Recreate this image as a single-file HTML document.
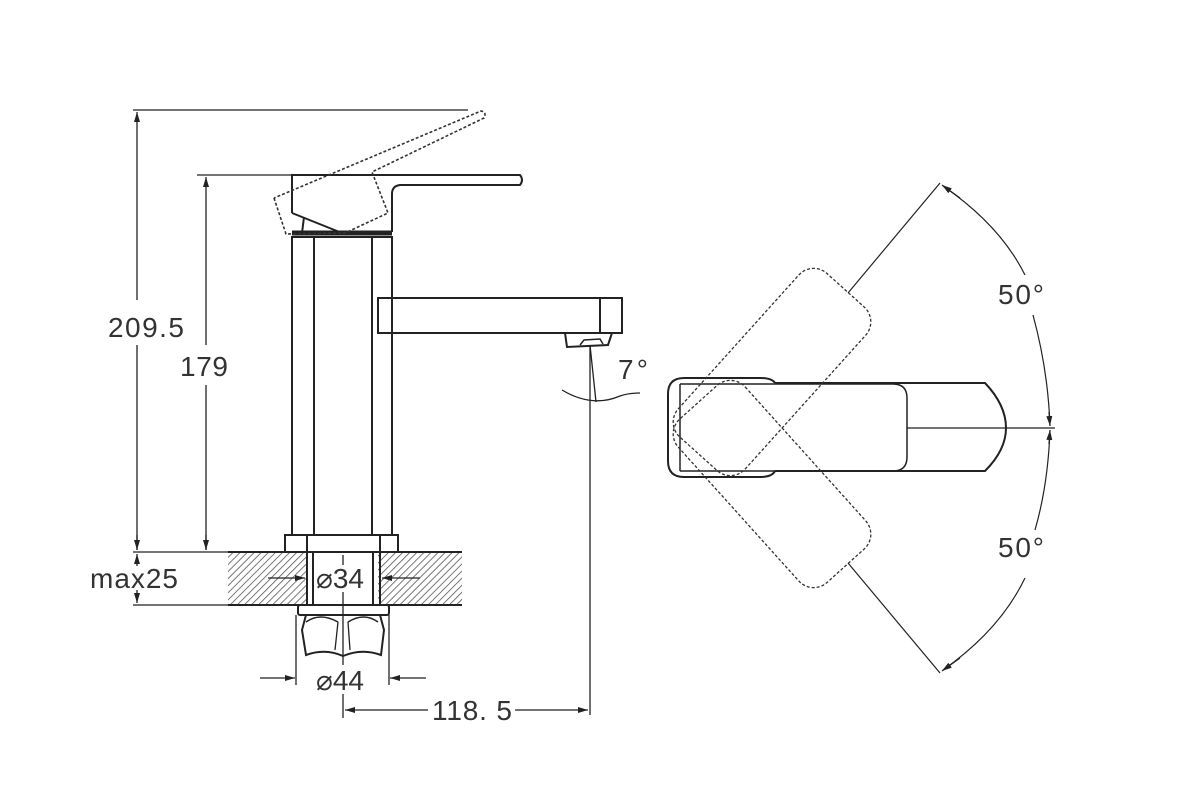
<!DOCTYPE html>
<html><head><meta charset="utf-8"><style>
html,body{margin:0;padding:0;background:#fff;}
svg{display:block}
text{font-family:"Liberation Sans",Arial,sans-serif;fill:#333;font-size:28px}
</style></head><body>
<svg width="1200" height="806" viewBox="0 0 1200 806" xmlns="http://www.w3.org/2000/svg">
<defs>
<pattern id="h" width="5" height="5" patternUnits="userSpaceOnUse" patternTransform="rotate(45)">
<rect width="5" height="5" fill="#fff"/><line x1="0" y1="0" x2="0" y2="5" stroke="#555" stroke-width="1.6"/>
</pattern>
<marker id="a" viewBox="0 0 10 6" refX="10" refY="3" markerWidth="10" markerHeight="6" orient="auto-start-reverse" markerUnits="userSpaceOnUse"><path d="M0,0 L10,3 L0,6z" fill="#222"/></marker>
</defs>
<g stroke="#222" fill="none" stroke-width="1.3">
<line x1="133" y1="110" x2="468" y2="110"/>
<line x1="137" y1="300" x2="137" y2="112" marker-end="url(#a)"/>
<line x1="137" y1="345" x2="137" y2="550"/>
<line x1="197" y1="175" x2="292" y2="175"/>
<line x1="206" y1="345" x2="206" y2="177" marker-end="url(#a)"/>
<line x1="206" y1="385" x2="206" y2="550"/>
<line x1="137" y1="535" x2="137" y2="550" marker-end="url(#a)"/>
<line x1="206" y1="535" x2="206" y2="550" marker-end="url(#a)"/>
<line x1="133" y1="552" x2="228" y2="552"/>
<line x1="133" y1="605" x2="228" y2="605"/>
<line x1="137" y1="566" x2="137" y2="554" marker-end="url(#a)"/>
<line x1="137" y1="590" x2="137" y2="603" marker-end="url(#a)"/>
</g>
<text x="108" y="337" textLength="76">209.5</text>
<text x="180" y="376" textLength="48">179</text>
<text x="90" y="588" textLength="88">max25</text>

<rect x="228" y="552" width="80" height="53" fill="url(#h)"/>
<rect x="378" y="552" width="84" height="53" fill="url(#h)"/>
<g stroke="#222" fill="none" stroke-width="2">
<line x1="228" y1="552" x2="462" y2="552"/>
<line x1="228" y1="605" x2="462" y2="605"/>
<rect x="292" y="237" width="100" height="298"/>
<line x1="314" y1="237" x2="314" y2="535"/>
<line x1="372" y1="237" x2="372" y2="535"/>
<rect x="285" y="535" width="113" height="17"/>
<line x1="307" y1="535" x2="307" y2="552"/>
<line x1="380" y1="535" x2="380" y2="552"/>
<line x1="307" y1="552" x2="307" y2="605"/>
<line x1="313" y1="552" x2="313" y2="605"/>
<line x1="373" y1="552" x2="373" y2="605"/>
<line x1="380" y1="552" x2="380" y2="605"/>
<rect x="298" y="605" width="91" height="10" rx="2"/>
<path d="M306,615 L302,630 L306,655 Q325,648 343,656 Q362,648 381,655 L384,630 L380,615"/>
<path d="M306,622 Q320,612 338,622 M348,622 Q364,612 378,622" stroke-width="1.5"/>
<path d="M338,622 L335,650 M348,622 L350,650" stroke-width="1.3"/>
<path d="M292,213 L292,175 L520,175 Q524,180 520,185 L400,185 Q392,186 392,194 L392,232"/>
<path d="M292,213 L342,233"/>
<path d="M304,217 L302,233"/>
<line x1="292" y1="233" x2="392" y2="233" stroke-width="5"/>
<rect x="378" y="298" width="244" height="35"/>
<line x1="600" y1="298" x2="600" y2="333"/>
<path d="M565,333 L567,347 L608,345 L612,333"/>
<path d="M580,345 L584,340 L600,339 L603,344" stroke-width="1.5"/>
</g>
<path d="M274,198 L286,234 L345,233 L388,213 L372,172 L484,118 Q487,112 481,111 L274,198" stroke="#333" stroke-width="1.6" fill="none" stroke-dasharray="3,2"/>
<g stroke="#222" fill="none" stroke-width="1.3">
<line x1="590" y1="345" x2="590" y2="715"/>
<line x1="590" y1="345" x2="596" y2="402"/>
<path d="M562,390 Q592,408 620,396 Q628,393 640,393"/>
<line x1="268" y1="578" x2="305" y2="578" marker-end="url(#a)"/>
<line x1="420" y1="578" x2="382" y2="578" marker-end="url(#a)"/>
<line x1="343" y1="555" x2="343" y2="565"/>
<line x1="343" y1="592" x2="343" y2="665"/>
<line x1="343" y1="694" x2="343" y2="718"/>
<line x1="296" y1="615" x2="296" y2="685"/>
<line x1="389" y1="615" x2="389" y2="685"/>
<line x1="260" y1="678" x2="295" y2="678" marker-end="url(#a)"/>
<line x1="426" y1="678" x2="390" y2="678" marker-end="url(#a)"/>
<line x1="428" y1="710" x2="345" y2="710" marker-end="url(#a)"/>
<line x1="515" y1="710" x2="588" y2="710" marker-end="url(#a)"/>
</g>
<text x="618" y="379" textLength="30">7°</text>
<text x="316" y="588">⌀34</text>
<text x="316" y="690">⌀44</text>
<text x="432" y="720" textLength="80">118. 5</text>

<g stroke="#222" fill="none" stroke-width="2">
<path d="M775,383 Q772,378 760,378 L684,378 Q668,378 668,394 L668,461 Q668,477 684,477 L760,477 Q772,477 775,471"/>
<path d="M775,383 L985,383 Q1006,405 1006,428 Q1006,450 985,471 L775,471"/>
<path d="M680,384 L893,384 Q907,384 907,398 L907,457 Q907,471 893,471 L680,471" stroke-width="1.5"/>
<path d="M680,384 L680,471" stroke-width="1.5"/>
</g>
<g stroke="#333" fill="none" stroke-width="1.3" stroke-dasharray="3,2">
<rect x="662" y="327" width="220" height="90" rx="20" transform="rotate(-48 772 372)"/>
<rect x="662" y="439" width="220" height="90" rx="20" transform="rotate(48 772 484)"/>
</g>
<g stroke="#222" fill="none" stroke-width="1.2">
<line x1="907" y1="428" x2="1055" y2="428"/>
<line x1="848" y1="293" x2="940" y2="183"/>
<line x1="848" y1="563" x2="940" y2="673"/>
<path d="M943,186 Q1000,225 1025,275"/>
<path d="M1033,315 Q1048,370 1050,426"/>
<path d="M1050,430 Q1048,485 1035,530"/>
<path d="M1025,578 Q1000,630 943,670"/>
<line x1="960" y1="198" x2="942" y2="185" marker-end="url(#a)"/>
<line x1="960" y1="658" x2="942" y2="671" marker-end="url(#a)"/>
<line x1="1049" y1="412" x2="1050" y2="426" marker-end="url(#a)"/>
<line x1="1049" y1="444" x2="1050" y2="430" marker-end="url(#a)"/>
</g>
<text x="998" y="304" textLength="46">50°</text>
<text x="998" y="557" textLength="46">50°</text>
</svg>
</body></html>
